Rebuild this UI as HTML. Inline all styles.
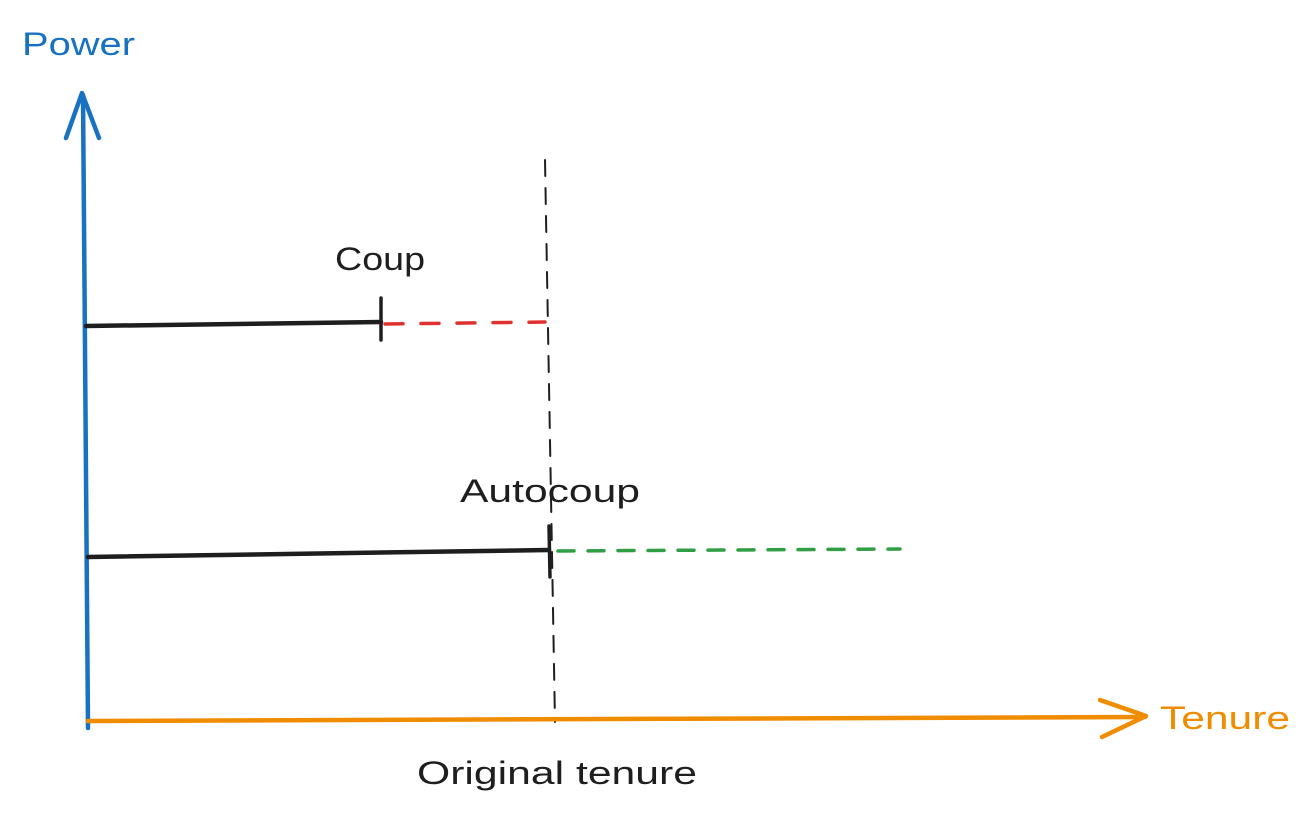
<!DOCTYPE html>
<html><head><meta charset="utf-8"><style>
html,body{margin:0;padding:0;background:#fff;}
svg{display:block;}
text{font-family:"Liberation Sans","DejaVu Sans",sans-serif;}
</style></head><body>
<svg width="1311" height="817" viewBox="0 0 1311 817" xmlns="http://www.w3.org/2000/svg" stroke-linecap="round" stroke-linejoin="round" fill="none">
<line x1="545" y1="160" x2="555" y2="722" stroke="#1e1e1e" stroke-width="2" stroke-dasharray="16 12"/>
<path d="M88 728 L83 95" stroke="#1971c2" stroke-width="4.5"/>
<path d="M66 138 L82 93 L99 138" stroke="#1971c2" stroke-width="4.5"/>
<text x="22" y="55" font-size="32" fill="#1971c2" textLength="113" lengthAdjust="spacingAndGlyphs">Power</text>
<path d="M88 721 L1145 717" stroke="#f08c00" stroke-width="4.5"/>
<path d="M1100 700 L1146 716 L1102 737" stroke="#f08c00" stroke-width="4.5"/>
<text x="1160" y="729" font-size="32" fill="#f08c00" textLength="130" lengthAdjust="spacingAndGlyphs">Tenure</text>
<path d="M86 326 L381 322" stroke="#1e1e1e" stroke-width="4.5"/>
<path d="M381 298 L381 340" stroke="#1e1e1e" stroke-width="3.5"/>
<path d="M385 324 L545 322" stroke="#e03131" stroke-width="3.5" stroke-dasharray="18 18"/>
<text x="335" y="270" font-size="32" fill="#1e1e1e" textLength="90" lengthAdjust="spacingAndGlyphs">Coup</text>
<path d="M88 557 L549 550" stroke="#1e1e1e" stroke-width="4.5"/>
<path d="M549 526 L550 577" stroke="#1e1e1e" stroke-width="3.5"/>
<path d="M558 551 L900 549" stroke="#2f9e44" stroke-width="3.5" stroke-dasharray="16 14"/>
<text x="460" y="502" font-size="32" fill="#1e1e1e" textLength="180" lengthAdjust="spacingAndGlyphs">Autocoup</text>
<text x="417" y="784" font-size="32" fill="#1e1e1e" textLength="280" lengthAdjust="spacingAndGlyphs">Original tenure</text>
</svg>
</body></html>
